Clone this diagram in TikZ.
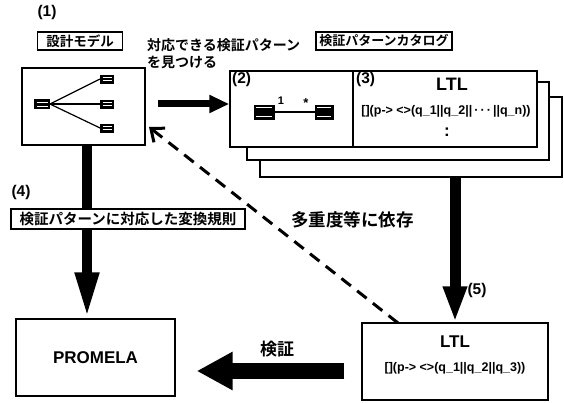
\documentclass[tikz,border=0pt]{standalone}
\usepackage{fontspec}
\setmainfont{Liberation Sans}
\newfontfamily\jp{Noto Sans CJK JP Bold}
\usetikzlibrary{arrows.meta}
\begin{document}
\begin{tikzpicture}[x=1pt,y=-1pt,
  lat/.style={font=\bfseries\fontsize{15.5}{16}\selectfont, inner sep=0pt},
  jtxt/.style={font=\jp\fontsize{14}{15}\selectfont, inner sep=0pt},
  tagbox/.style={draw, line width=1.3pt, fill=white, font=\jp\fontsize{13}{14}\selectfont, inner sep=0pt},
  box/.style={draw, line width=1.4pt, fill=white, inner sep=0pt},
  icon/.style={draw, fill=black, line width=0.8pt, inner sep=0pt,
    path picture={\draw[white, line width=0.8pt]
      ([xshift=2pt,yshift=-2.5pt]path picture bounding box.north west) -- ([xshift=-2pt,yshift=-2.5pt]path picture bounding box.north east)
      ([xshift=2pt,yshift=2.5pt]path picture bounding box.south west) -- ([xshift=-2pt,yshift=2.5pt]path picture bounding box.south east);}},
  conn/.style={line width=1.2pt},
  formula/.style={font=\bfseries\fontsize{12.5}{13}\selectfont, inner sep=0pt}
]
\useasboundingbox (0,0) rectangle (564,403);

% (1) design model
\node[lat] (n1) at (47,12) {(1)};
\node[tagbox, minimum width=85pt, minimum height=18pt, font=\jp\fontsize{13.5}{14}\selectfont] (dmlabel) at (80,41) {設計モデル};
\node[box, minimum width=123pt, minimum height=77pt] (design) at (83.5,106.5) {};
\node[icon, minimum width=15pt, minimum height=9pt] (ic0) at (42,104) {};
\node[icon, minimum width=13pt, minimum height=8pt] (ic1) at (107,79) {};
\node[icon, minimum width=13pt, minimum height=8pt] (ic2) at (107,104) {};
\node[icon, minimum width=13pt, minimum height=8pt] (ic3) at (107,128) {};
\draw[conn] (ic0.east) -- (ic1.west);
\draw[conn] (ic0.east) -- (ic2.west);
\draw[conn] (ic0.east) -- (ic3.west);

% find pattern text
\node[jtxt, anchor=west] (find1) at (147,45) {対応できる検証パターン};
\node[jtxt, anchor=west] (find2) at (147,62) {を見つける};

% catalogue
\node[tagbox, minimum width=136pt, minimum height=18pt] (catlabel) at (384,41) {検証パターンカタログ};
\node[box, minimum width=302pt, minimum height=80pt] (card3) at (411,137) {};
\node[box, minimum width=302pt, minimum height=78pt] (card2) at (398,121) {};
\node[box, minimum width=307pt, minimum height=76pt] (front) at (383.5,109) {};
\coordinate (divx) at (353,0);
\draw[line width=1.4pt] (front.north -| divx) -- (front.south -| divx);

\node[lat, anchor=north west] (n2) at (232,72) {(2)};
\node[icon, minimum width=20pt, minimum height=14pt] (pc1) at (264,112) {};
\node[icon, minimum width=18pt, minimum height=14pt] (pc2) at (324,112) {};
\draw[conn] (pc1.east) -- (pc2.west);
\node[lat, font=\bfseries\fontsize{11}{12}\selectfont] (m1) at (281,101) {1};
\node[lat, font=\bfseries\fontsize{13}{13}\selectfont] (m2) at (306,103) {*};

\node[lat, anchor=north west] (n3) at (356,72) {(3)};
\node[lat, font=\bfseries\fontsize{18}{19}\selectfont] (ltl1) at (452,84) {LTL};
\node[formula] (f1) at (446,111) {[](p-> <>(q\_1||q\_2||\,·\,·\,·\,||q\_n))};
\node[lat, font=\bfseries\fontsize{17}{17}\selectfont] (vd) at (447,132) {:};

% top arrow
\draw[line width=7pt, -{Triangle[length=20pt,width=17pt]}] ([xshift=12pt]design.east |- ic2) -- (front.west |- ic2);

% LTL result box
\node[box, minimum width=186pt, minimum height=77pt] (ltlbox) at (455,361.5) {};
\node[lat, font=\bfseries\fontsize{17}{18}\selectfont] (ltl2) at (455,342) {LTL};
\node[formula] (f2) at (455,368) {[](p-> <>(q\_1||q\_2||q\_3))};

% (5) arrow
\draw[line width=11pt, -{Triangle[length=36pt,width=22pt]}] (card3.south -| ltlbox) -- (ltlbox.north);
\node[lat] (n5) at (477,290) {(5)};

% dashed arrow
\coordinate (dstart) at (398,323);
\coordinate (dend) at (149,127);
\draw[line width=3pt, dash pattern=on 12pt off 8pt, -{Straight Barb[length=11pt,width=18pt,line width=3pt]}] (dstart) -- (dend);
\node[jtxt, font=\jp\fontsize{17.5}{18}\selectfont, anchor=west] (dep) at (291,220) {多重度等に依存};

% PROMELA
\node[box, minimum width=159pt, minimum height=77pt, font=\bfseries\fontsize{17}{18}\selectfont] (promela) at (95.5,357.5) {PROMELA};

% (4) arrow
\coordinate (a4) at (87,0);
\draw[line width=10pt, -{Triangle[length=46pt,width=22pt]}] (design.south -| a4) -- (promela.north -| a4);
\node[lat] (n4) at (21,192) {(4)};
\node[tagbox, minimum width=234pt, minimum height=20pt, font=\jp\fontsize{14.5}{15}\selectfont] (rule) at (128,219) {検証パターンに対応した変換規則};

% verification arrow
\coordinate (a5) at (0,371);
\draw[line width=16pt, -{Triangle[length=36pt,width=36pt]}, shorten <=17pt, shorten >=21pt] (ltlbox.west |- a5) -- (promela.east |- a5);
\node[jtxt, font=\jp\fontsize{17}{18}\selectfont] (ver) at (277,349) {検証};

\end{tikzpicture}
\end{document}
